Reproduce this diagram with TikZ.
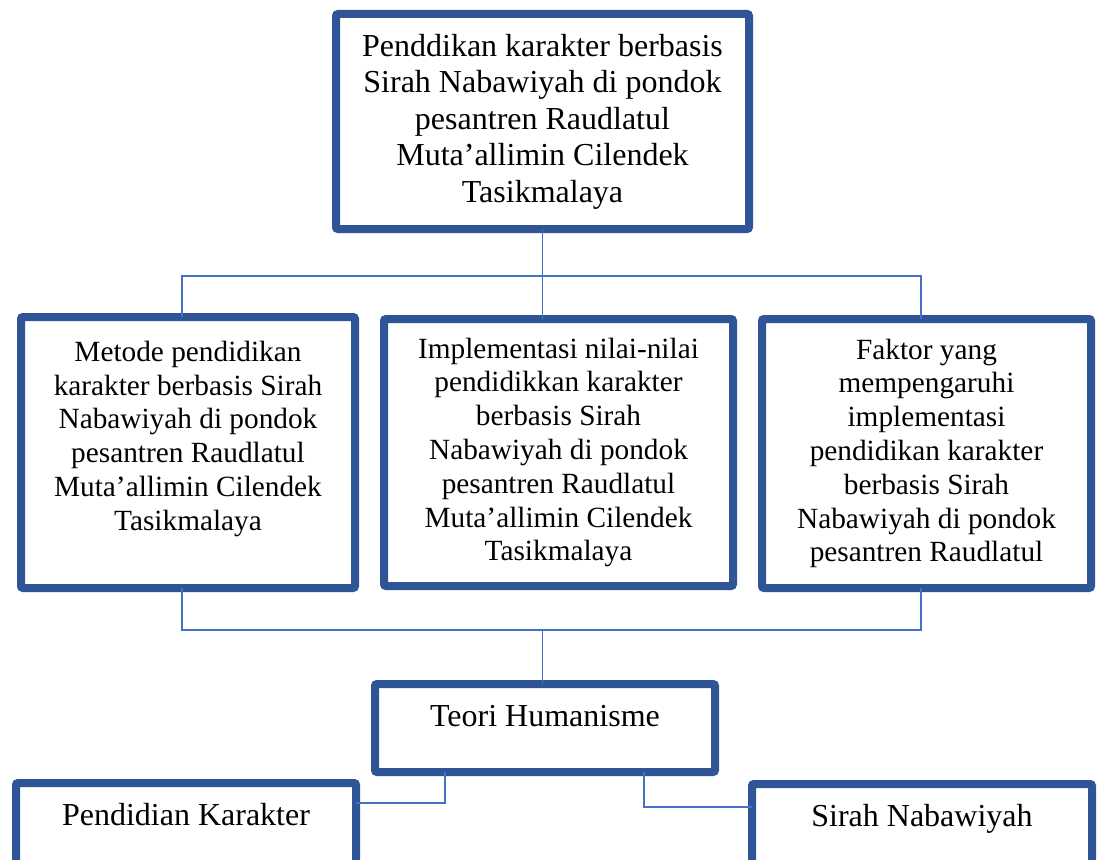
\documentclass[tikz,border=0pt]{standalone}
\usepackage{fontspec}
\setmainfont{Liberation Serif}
\definecolor{boxblue}{HTML}{2F5597}
\definecolor{lineblue}{HTML}{4472C4}

\begin{document}
\begin{tikzpicture}[x=1pt, y=-1pt,
    box/.style={draw=boxblue, line width=8pt, rounded corners=2pt, fill=white, align=center, inner sep=0pt, outer sep=0pt},
    bigtext/.style={font=\fontsize{32}{36.5}\selectfont},
    midtext/.style={font=\fontsize{29.3}{33.8}\selectfont},
    smallbox/.style={box, bigtext, minimum width=340pt, inner ysep=4pt, text height=38pt, text depth=42pt},
    link/.style={draw=lineblue, line width=1.2pt}]
    \useasboundingbox (0,0) rectangle (1097,859);
    \clip (0,0) rectangle (1097,859);
    \node[box, bigtext, minimum width=413pt, minimum height=215pt] (top) at (542.5,121.5) {Penddikan karakter berbasis\\ Sirah Nabawiyah di pondok\\ pesantren Raudlatul\\ Muta’allimin Cilendek\\ Tasikmalaya};
    \node[box, midtext, minimum width=334pt, minimum height=271pt] (metode) at (188,452.5) {Metode pendidikan\\ karakter berbasis Sirah\\ Nabawiyah di pondok\\ pesantren Raudlatul\\ Muta’allimin Cilendek\\ Tasikmalaya\\ \mbox{}};
    \node[box, midtext, minimum width=349pt, minimum height=267pt] (nilai) at (558.5,452.5) {Implementasi nilai-nilai\\ pendidikkan karakter\\ berbasis Sirah\\ Nabawiyah di pondok\\ pesantren Raudlatul\\ Muta’allimin Cilendek\\ Tasikmalaya};
    \node[box, midtext, minimum width=329pt, minimum height=269pt] (faktor) at (926.5,453.5) {Faktor yang\\ mempengaruhi\\ implementasi\\ pendidikan karakter\\ berbasis Sirah\\ Nabawiyah di pondok\\ pesantren Raudlatul};
    \node[smallbox] (teori) at (545,728) {Teori Humanisme};
    \node[smallbox] (karakter) at (186,827) {Pendidian Karakter};
    \node[smallbox] (sirah) at (922,828) {Sirah Nabawiyah};
    \coordinate (busA) at (182,276);
    \coordinate (busB) at (921,276);
    \coordinate (busC) at (182,630);
    \coordinate (busD) at (921,630);
    \coordinate (kiri) at (445,803);
    \coordinate (kanan) at (644,807);
    \draw[link] (top.south) -- (nilai.north -| top.south);
    \draw[link] (metode.north -| busA) |- (busB) -- (faktor.north -| busB);
    \draw[link] (metode.south -| busC) |- (busD) -- (faktor.south -| busD);
    \draw[link] (busC -| top.south) -- (teori.north -| top.south);
    \draw[link] (teori.south -| kiri) |- (karakter.east |- kiri);
    \draw[link] (teori.south -| kanan) |- (sirah.west |- kanan);
\end{tikzpicture}
\end{document}
